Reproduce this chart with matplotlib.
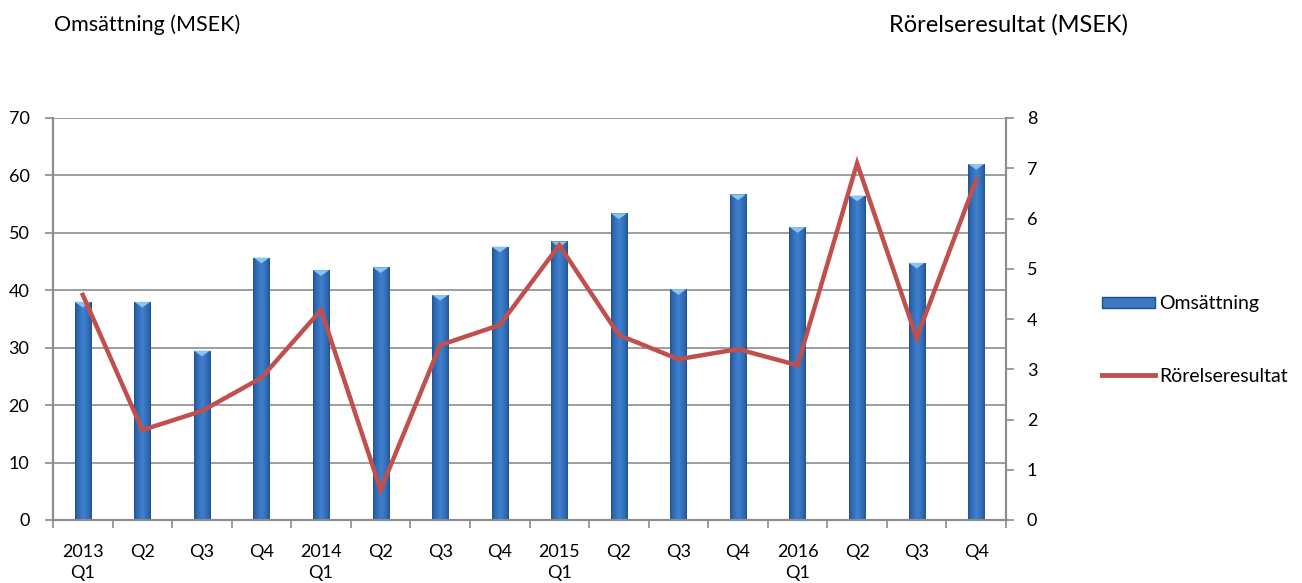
import matplotlib
matplotlib.use("Agg")
import matplotlib.pyplot as plt
import numpy as np
from matplotlib.lines import Line2D
from matplotlib.patches import Patch
from matplotlib.colors import LinearSegmentedColormap

plt.rcParams['font.family'] = ['Lato', 'DejaVu Sans']

categories = ["2013\nQ1", "Q2", "Q3", "Q4", "2014\nQ1", "Q2", "Q3", "Q4",
              "2015\nQ1", "Q2", "Q3", "Q4", "2016\nQ1", "Q2", "Q3", "Q4"]
omsattning = [38.0, 38.0, 29.5, 45.7, 43.5, 44.0, 39.2, 47.6,
              48.5, 53.4, 40.2, 56.7, 51.0, 56.5, 44.8, 62.0]
rorelseresultat = [4.48, 1.79, 2.17, 2.83, 4.18, 0.6, 3.48, 3.88,
                   5.47, 3.68, 3.2, 3.4, 3.08, 7.1, 3.62, 6.77]

fig = plt.figure(figsize=(13.02, 5.83), dpi=100)
ax = fig.add_axes([53/1302, 1 - 520/583, (1006 - 53)/1302, (520 - 118)/583])
ax2 = ax.twinx()

x = np.arange(len(categories))
bars = ax.bar(x, omsattning, width=0.27, color="#3A6FB5", zorder=3)

grad = np.linspace(0, 1, 64)
prof = 1 - np.abs(grad - 0.5) * 2
cmap = LinearSegmentedColormap.from_list("b", ["#1F4E8C", "#3F80D0"])
img = np.tile(prof ** 0.6, (2, 1))
for b in bars:
    x0, y0 = b.get_x(), b.get_y()
    w, h = b.get_width(), b.get_height()
    im = ax.imshow(img, extent=[x0, x0 + w, y0, y0 + h], aspect='auto',
                   cmap=cmap, zorder=3.5, origin='lower')
    im.set_clip_path(b)
    ax.fill([x0, x0 + w, x0 + w / 2], [y0 + h, y0 + h, y0 + h - 1.0],
            color="#8CC4F0", zorder=4, lw=0)

ax.set_xlim(-0.5, len(categories) - 0.5)
ax.set_ylim(0, 70)
ax.set_yticks(range(0, 71, 10))
ax.grid(axis='y', color='#8C8C8C', lw=1.2, zorder=0)
ax.set_axisbelow(True)

ax.set_xticks(np.arange(-0.5, len(categories), 1), minor=False)
ax.set_xticklabels([])
ax.set_xticks(x, minor=True)
ax.set_xticklabels(categories, minor=True, linespacing=1.45, va='top')
ax.tick_params(axis='x', which='major', length=6, color='#8C8C8C', width=1.2)
ax.tick_params(axis='x', which='minor', length=0, pad=17, labelsize=13)
ax.tick_params(axis='y', length=6, color='#8C8C8C', width=1.2, labelsize=13, pad=11)

ax2.plot(x, rorelseresultat, color="#C0504D", lw=3.2, zorder=5, solid_joinstyle='miter')
ax2.set_ylim(0, 8)
ax2.set_yticks(range(0, 9))
ax2.tick_params(axis='y', length=6, color='#8C8C8C', width=1.2, labelsize=13, pad=9)

for a in (ax, ax2):
    a.spines['top'].set_visible(False)
    for s in ('left', 'right', 'bottom'):
        a.spines[s].set_color('#8C8C8C')
        a.spines[s].set_linewidth(1.5)
ax2.set_zorder(ax.get_zorder() + 1)
ax2.patch.set_visible(False)

fig.text(54/1302, 1 - 25/583, "Omsättning (MSEK)", fontsize=15.5, va='center', ha='left')
fig.text(889/1302, 1 - 25/583, "Rörelseresultat (MSEK)", fontsize=17, va='center', ha='left')

handles = [Patch(facecolor="#3A78C2", edgecolor="#1F4E8C"),
           Line2D([0], [0], color="#C0504D", lw=3.5)]
leg = fig.legend(handles, ["Omsättning", "Rörelseresultat"],
                 loc='center left', bbox_to_anchor=(1084/1302, 1 - 340/583),
                 frameon=False, fontsize=14, labelspacing=2.85,
                 handlelength=2.75, handletextpad=0.2, handleheight=0.55)

fig.savefig("out.png", dpi=100)
